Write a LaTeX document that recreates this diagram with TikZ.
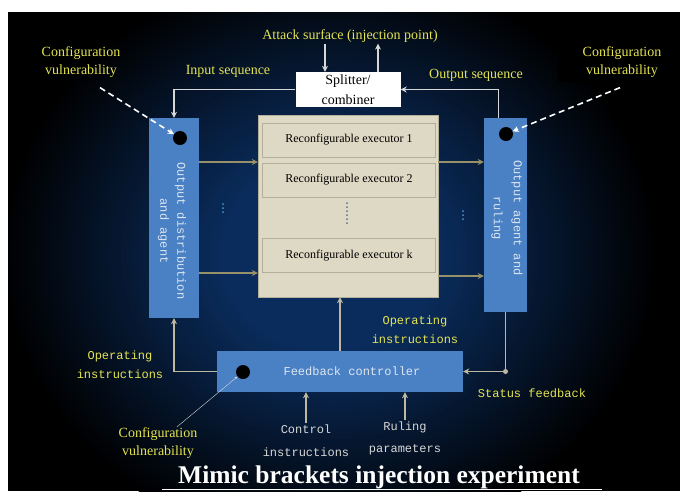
\documentclass[tikz,border=0pt]{standalone}
\usepackage{fontspec}
\setmainfont{Liberation Serif}
\setmonofont{Liberation Mono}
\usetikzlibrary{arrows.meta}

\definecolor{navy}{RGB}{10,44,92}
\definecolor{panel}{RGB}{74,128,196}
\definecolor{beige}{RGB}{222,217,197}
\definecolor{beigeline}{RGB}{180,175,155}
\definecolor{olive}{RGB}{150,145,105}
\definecolor{khaki}{RGB}{190,184,160}
\definecolor{noteyellow}{RGB}{228,228,82}
\definecolor{pale}{RGB}{215,215,215}
\definecolor{ice}{RGB}{222,230,240}
\definecolor{dotblue}{RGB}{70,150,215}
\definecolor{dotgray}{RGB}{95,115,140}

\tikzset{
  agent/.style = {rectangle, fill=panel, inner sep=0pt},
  pool/.style = {rectangle, fill=beige, draw=beigeline, minimum width=180pt, minimum height=182pt},
  execbox/.style = {rectangle, fill=beige, draw=beigeline, minimum width=173pt,
                    minimum height=34pt, font=\fontsize{12}{14}\selectfont},
  splitbox/.style = {rectangle, fill=white, minimum width=105pt, minimum height=35pt,
                     align=center, inner sep=0pt, font=\fontsize{14}{20}\selectfont},
  note/.style = {text=noteyellow, align=center, inner sep=1pt, font=\fontsize{14}{18}\selectfont},
  mono/.style = {align=center, inner sep=1pt, font=\ttfamily\fontsize{12}{19}\selectfont},
  vtext/.style = {rotate=-90, text=ice, align=center, inner sep=0pt},
  hole/.style = {circle, fill=black, minimum size=14pt, inner sep=0pt},
  wire/.style = {draw=pale, line width=1.6pt, -{Stealth[length=6pt,width=6pt]}},
  pipe/.style = {draw=olive, line width=1.6pt, -{Stealth[length=6pt,width=6pt]}},
  back/.style = {draw=khaki, line width=1.6pt, -{Stealth[length=6pt,width=6pt]}},
  hint/.style = {draw=white, line width=1.6pt, dash pattern=on 6pt off 4pt,
                 -{Stealth[length=6pt,width=6pt]}}
}

\begin{document}
\begin{tikzpicture}[x=1pt, y=-1pt]
	\useasboundingbox (0,0) rectangle (680,491);

	% Backdrop: black edges fading into navy
	\fill[white] (0,0) rectangle (680,491);
	\begin{scope}
		\clip (8,12) rectangle (680,491);
		\fill[black] (8,12) rectangle (680,491);
		\foreach \i in {0,...,40} {
			\pgfmathsetmacro\mix{2.5*\i}
			\pgfmathsetmacro\rx{330-5.5*\i}
			\pgfmathsetmacro\ry{290-4.8*\i}
			\fill[navy!\mix!black] (330,255) ellipse ({\rx} and {\ry});
		}
	\end{scope}
	\fill[black] (558,57) rectangle (680,82);
	\draw[white, line width=1.5pt] (162,489.5) -- (602,489.5);

	% Splitter and executors
	\node[splitbox] (split) at (348,89.5) {Splitter/\\combiner};
	\node[pool] (pool) at (348,206) {};
	\node[execbox] (ex1) at (349,140) {Reconfigurable executor 1};
	\node[execbox] (ex2) at (349,180) {Reconfigurable executor 2};
	\node[execbox] (exk) at (349,255.5) {Reconfigurable executor k};
	\foreach \k in {0,...,5}
		\fill[dotgray] (347,203+4*\k) circle (1pt);

	% Agents
	\node[agent, minimum width=50pt, minimum height=200pt] (dist) at (174,218) {};
	\node[agent, minimum width=43pt, minimum height=194pt] (judge) at (505.5,215) {};
	\node[vtext, font=\ttfamily\fontsize{12}{17}\selectfont] (distlabel) at (172,231) {Output distribution\\and agent};
	\node[vtext, font=\ttfamily\fontsize{12}{20}\selectfont] (judgelabel) at (507,218) {Output agent and\\ruling};
	\foreach \k in {0,1,2} {
		\fill[dotblue] (223,204+4*\k) circle (1pt);
		\fill[dotblue] (463,211+4*\k) circle (1pt);
	}

	% Controller
	\node[agent, minimum width=246pt, minimum height=41pt] (ctrl) at (340,371.5) {};
	\node[mono, text=ice] (ctrllabel) at (352,371.5) {Feedback controller};

	% Holes
	\node[hole] (dotL) at (180,138) {};
	\node[hole] (dotR) at (506,134) {};
	\node[hole] (dotB) at (243,372) {};

	% Labels
	\node[note] (attack) at (350,36) {Attack surface (injection point)};
	\node[note] (cfgL) at (81,62) {Configuration\\vulnerability};
	\node[note] (cfgR) at (622,62) {Configuration\\vulnerability};
	\node[note] (inseq) at (228,71) {Input sequence};
	\node[note] (outseq) at (476,75) {Output sequence};
	\node[note] (cfgB) at (158,443.5) {Configuration\\vulnerability};
	\node[mono, text=noteyellow] (opL) at (120,364.5) {Operating\\instructions};
	\node[mono, text=noteyellow] (opR) at (415,329.5) {Operating\\instructions};
	\node[mono, text=noteyellow] (status) at (532,393) {Status feedback};
	\node[mono, text=pale, font=\ttfamily\fontsize{12}{23}\selectfont] (ctrlin) at (306,440.5) {Control\\instructions};
	\node[mono, text=pale, font=\ttfamily\fontsize{12}{22}\selectfont] (rulein) at (405,438) {Ruling\\parameters};
	\node[text=white, anchor=base, font=\bfseries\fontsize{25.5}{30}\selectfont] (title) at (379,483) {Mimic brackets injection experiment};

	% Sequences
	\draw[wire] (split.west) -| (dist.north);
	\draw[wire] ([xshift=-7pt]judge.north) |- (split.east);
	\draw[wire] ([xshift=-25pt]attack.south) -- ([xshift=-25pt]attack.south |- split.north);
	\draw[wire] ([xshift=28pt]attack.south |- split.north) -- ([xshift=28pt]attack.south);

	% Distribution and ruling
	\draw[pipe] (dist.east |- 0,162) -- (pool.west |- 0,162);
	\draw[pipe] (dist.east |- 0,273) -- (pool.west |- 0,273);
	\draw[pipe] (pool.east |- 0,162) -- (judge.west |- 0,162);
	\draw[pipe] (pool.east |- 0,276) -- (judge.west |- 0,276);

	% Feedback loop
	\draw[back] (ctrl.west) -| (dist.south);
	\draw[back] (ctrl.north) -- (ctrl.north |- pool.south);
	\draw[back] (judge.south) |- (ctrl.east);
	\fill[khaki] (judge.south |- ctrl.east) circle (2.5pt);
	\draw[back] (ctrlin.north) -- (ctrlin.north |- ctrl.south);
	\draw[back] (rulein.north) -- (rulein.north |- ctrl.south);

	% Vulnerabilities
	\draw[hint] ([xshift=19pt,yshift=-9pt]cfgL.south) -- (dotL);
	\draw[hint] ([xshift=-2pt,yshift=-9pt]cfgR.south) -- (dotR);
	\draw[pale, thin, -{Stealth[length=3pt]}] ([xshift=19pt]cfgB.north) -- (dotB);
\end{tikzpicture}
\end{document}
